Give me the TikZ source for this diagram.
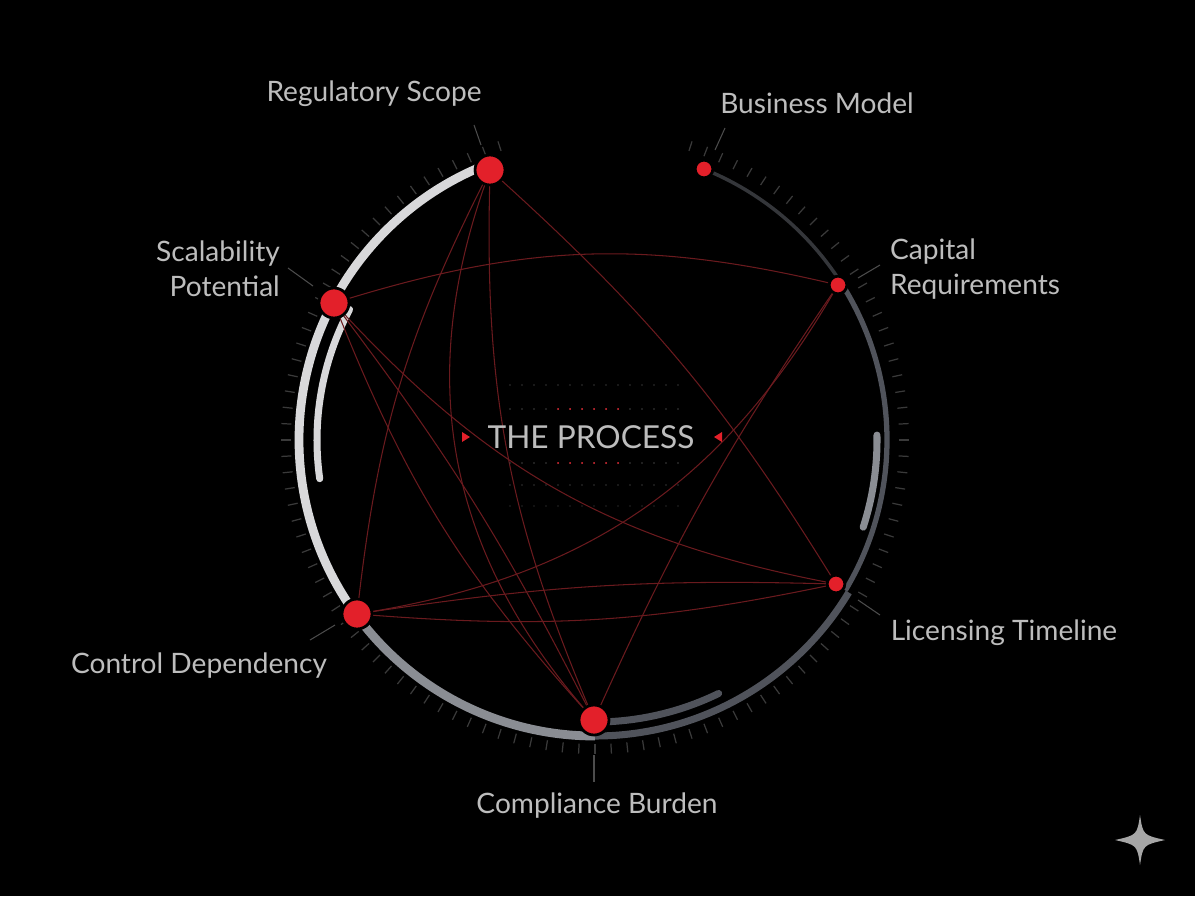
\documentclass[tikz,border=0pt]{standalone}
\usepackage{fontspec}
\setmainfont{Lato}
\usetikzlibrary{positioning,calc}
\definecolor{nodered}{HTML}{E3202A}
\definecolor{linkred}{HTML}{6A1A1E}
\definecolor{txt}{HTML}{BDBDBD}
\definecolor{ringlight}{HTML}{D8D8DA}
\definecolor{ringmid}{HTML}{8A8D93}
\definecolor{ringslate}{HTML}{50535B}
\definecolor{ringdark}{HTML}{34363A}
\definecolor{tick}{HTML}{3A3A3A}
\begin{document}
\begin{tikzpicture}[x=0.02cm,y=-0.02cm]

\tikzset{hub/.style = {shape=circle,fill=nodered,draw=black,line width=1.5pt,inner sep=0pt}}
\tikzset{big/.style = {hub,minimum size=17pt}}
\tikzset{small/.style = {hub,minimum size=10pt}}
\tikzset{lbl/.style = {text=txt,font=\fontsize{16}{20}\selectfont,align=center}}
\tikzset{link/.style = {draw=linkred,line width=0.6pt}}
\tikzset{lead/.style = {draw=gray!60!black,line width=0.6pt}}

\fill[black] (0,0) rectangle (1195,896);
\useasboundingbox (0,0) rectangle (1195,896);
\coordinate (c) at (595,440);

% ticks
\foreach \a in {-72,-69,...,252}
  \draw[tick,line width=0.7pt] ($(c)+(\a:304)$) -- ($(c)+(\a:314)$);

% rings
\draw[ringlight,line width=5pt] ([shift={(-111:296)}]c) arc[start angle=-111,end angle=-216,radius=296];
\draw[ringmid,line width=5pt] ([shift={(-216:296)}]c) arc[start angle=-216,end angle=-270,radius=296];
\draw[ringslate,line width=4pt] ([shift={(-270:296)}]c) arc[start angle=-270,end angle=-329,radius=296];
\draw[ringslate,line width=3pt] ([shift={(-329:292)}]c) arc[start angle=-329,end angle=-392.5,radius=292];
\draw[ringdark,line width=2pt] ([shift={(-32.5:292)}]c) arc[start angle=-32.5,end angle=-68,radius=292];
\draw[ringlight,line width=4pt,line cap=round] ([shift={(-152:278)}]c) arc[start angle=-152,end angle=-188,radius=278];
\draw[ringmid,line width=4pt,line cap=round] ([shift={(-1:282)}]c) arc[start angle=-1,end angle=18,radius=282];
\draw[ringslate,line width=4pt,line cap=round] ([shift={(88:282)}]c) arc[start angle=88,end angle=64,radius=282];

% hubs
\node[big] (reg) at (490,170) {};
\node[small] (biz) at (704,169) {};
\node[small] (cap) at (838,285) {};
\node[small] (lic) at (836,584) {};
\node[big] (comp) at (594,720) {};
\node[big] (ctrl) at (357,614) {};
\node[big] (scal) at (334,303) {};

% links
\draw[link] (reg) to[bend right=12] (comp);
\draw[link] (reg) to[bend right=30] (comp);
\draw[link] (reg) to[bend left=8] (lic);
\draw[link] (reg) to[bend right=10] (ctrl);
\draw[link] (scal) to[bend left=15] (cap);
\draw[link] (scal) to[bend right=18] (lic);
\draw[link] (scal) to[bend left=5] (comp);
\draw[link] (ctrl) to[bend right=25] (cap);
\draw[link] (cap) to[bend right=5] (comp);
\draw[link] (ctrl) to[bend left=5] (lic);
\draw[link] (ctrl) to[bend right=8] (lic);
\draw[link] (scal) to[bend right=10] (comp);
\node[big] at (reg) {};
\node[small] at (biz) {};
\node[small] at (cap) {};
\node[small] at (lic) {};
\node[big] at (comp) {};
\node[big] at (ctrl) {};
\node[big] at (scal) {};

% labels
\node[lbl] (lreg) at (374,94) {Regulatory Scope};
\node[lbl] (lbiz) at (817,103) {Business Model};
\node[lbl,align=left] (lcap) at (975,269) {Capital\\Requirements};
\node[lbl] (llic) at (1004,633) {Licensing Timeline};
\node[lbl] (lcomp) at (597,806) {Compliance Burden};
\node[lbl] (lctrl) at (199,666) {Control Dependency};
\node[lbl,align=right] (lscal) at (218,269) {Scalability\\Potential};
\coordinate (t1) at (474,125); \coordinate (t2) at (481,145);
\draw[lead] (t1) -- (t2);
\coordinate (t3) at (725,128); \coordinate (t4) at (715,150);
\draw[lead] (t3) -- (t4);
\coordinate (t5) at (880,265); \coordinate (t6) at (858,278);
\draw[lead] (t5) -- (t6);
\coordinate (t7) at (858,600); \coordinate (t8) at (880,615);
\draw[lead] (t7) -- (t8);
\coordinate (t9) at (594,755); \coordinate (t10) at (594,782);
\draw[lead] (t9) -- (t10);
\coordinate (t11) at (310,640); \coordinate (t12) at (335,625);
\draw[lead] (t11) -- (t12);
\coordinate (t13) at (288,268); \coordinate (t14) at (313,286);
\draw[lead] (t13) -- (t14);

% centre
\foreach \r/\col in {385/gray!40!black,409/gray!50!black,463/gray!50!black,485/gray!40!black,506/gray!30!black}
  \foreach \x in {510,522,...,678}
    \fill[\col] (\x,\r) circle (0.9);
\foreach \x in {558,570,...,618}
  {\fill[nodered] (\x,409) circle (1); \fill[nodered] (\x,463) circle (1);}
\node[lbl,font=\fontsize{18}{22}\selectfont] (title) at (591,437) {THE PROCESS};
\fill[nodered] (462,432) -- (470,437) -- (462,442) -- cycle;
\fill[nodered] (722,432) -- (714,437) -- (722,442) -- cycle;

% sparkle
\fill[gray!70] (1140,815) .. controls (1143,835) .. (1165,840) .. controls (1143,845) .. (1140,865) .. controls (1137,845) .. (1115,840) .. controls (1137,835) .. (1140,815) -- cycle;
\end{tikzpicture}
\end{document}
